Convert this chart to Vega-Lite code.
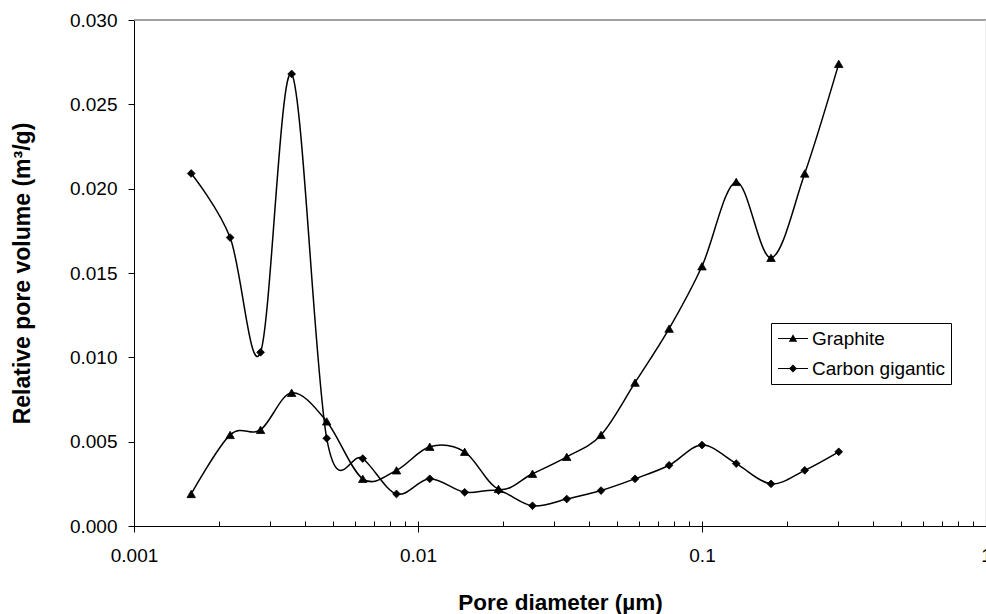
{
  "$schema": "https://vega.github.io/schema/vega-lite/v6.json",
  "width": 852,
  "height": 506,
  "autosize": "none",
  "padding": {"left": 134, "top": 20, "right": 0, "bottom": 88},
  "background": "white",
  "config": {
    "view": {"stroke": null},
    "font": "Liberation Sans",
    "axis": {
      "labelFont": "Liberation Sans",
      "labelFontSize": 19,
      "labelColor": "#000",
      "titleFont": "Liberation Sans",
      "titleFontWeight": "bold",
      "titleColor": "#000",
      "domainColor": "#000",
      "tickColor": "#000",
      "grid": false
    }
  },
  "datasets": {
    "pores": [
      {"d": 0.00159, "v": 0.0019, "s": "Graphite"},
      {"d": 0.00218, "v": 0.0054, "s": "Graphite"},
      {"d": 0.00279, "v": 0.0057, "s": "Graphite"},
      {"d": 0.00359, "v": 0.0079, "s": "Graphite"},
      {"d": 0.00477, "v": 0.0062, "s": "Graphite"},
      {"d": 0.00639, "v": 0.0028, "s": "Graphite"},
      {"d": 0.0084, "v": 0.0033, "s": "Graphite"},
      {"d": 0.011, "v": 0.0047, "s": "Graphite"},
      {"d": 0.0146, "v": 0.0044, "s": "Graphite"},
      {"d": 0.0192, "v": 0.0022, "s": "Graphite"},
      {"d": 0.0253, "v": 0.0031, "s": "Graphite"},
      {"d": 0.0334, "v": 0.0041, "s": "Graphite"},
      {"d": 0.0441, "v": 0.0054, "s": "Graphite"},
      {"d": 0.0581, "v": 0.0085, "s": "Graphite"},
      {"d": 0.0766, "v": 0.0117, "s": "Graphite"},
      {"d": 0.1, "v": 0.0154, "s": "Graphite"},
      {"d": 0.132, "v": 0.0204, "s": "Graphite"},
      {"d": 0.175, "v": 0.0159, "s": "Graphite"},
      {"d": 0.23, "v": 0.0209, "s": "Graphite"},
      {"d": 0.303, "v": 0.0274, "s": "Graphite"},
      {"d": 0.00159, "v": 0.0209, "s": "Carbon gigantic"},
      {"d": 0.00218, "v": 0.0171, "s": "Carbon gigantic"},
      {"d": 0.00279, "v": 0.0103, "s": "Carbon gigantic"},
      {"d": 0.00359, "v": 0.0268, "s": "Carbon gigantic"},
      {"d": 0.00477, "v": 0.0052, "s": "Carbon gigantic"},
      {"d": 0.00639, "v": 0.0040, "s": "Carbon gigantic"},
      {"d": 0.0084, "v": 0.0019, "s": "Carbon gigantic"},
      {"d": 0.011, "v": 0.0028, "s": "Carbon gigantic"},
      {"d": 0.0146, "v": 0.0020, "s": "Carbon gigantic"},
      {"d": 0.0192, "v": 0.0021, "s": "Carbon gigantic"},
      {"d": 0.0253, "v": 0.0012, "s": "Carbon gigantic"},
      {"d": 0.0334, "v": 0.0016, "s": "Carbon gigantic"},
      {"d": 0.0441, "v": 0.0021, "s": "Carbon gigantic"},
      {"d": 0.0581, "v": 0.0028, "s": "Carbon gigantic"},
      {"d": 0.0766, "v": 0.0036, "s": "Carbon gigantic"},
      {"d": 0.1, "v": 0.0048, "s": "Carbon gigantic"},
      {"d": 0.132, "v": 0.0037, "s": "Carbon gigantic"},
      {"d": 0.175, "v": 0.0025, "s": "Carbon gigantic"},
      {"d": 0.23, "v": 0.0033, "s": "Carbon gigantic"},
      {"d": 0.303, "v": 0.0044, "s": "Carbon gigantic"}
    ]
  },
  "data": {"name": "pores"},
  "resolve": {"axis": {"x": "independent"}},
  "layer": [
    {
      "data": {"values": [{"t": 0}]},
      "mark": {"type": "rule", "color": "#808080", "strokeWidth": 1.5},
      "encoding": {"y": {"datum": 0.03, "type": "quantitative"}}
    },
    {
      "data": {"values": [{"t": 0}]},
      "mark": {"type": "rule", "color": "#dddddd", "strokeWidth": 1},
      "encoding": {
        "x": {
          "datum": 1,
          "type": "quantitative",
          "scale": {"type": "log", "domain": [0.001, 1]},
          "axis": {
            "orient": "bottom",
            "values": [0.001, 0.002, 0.003, 0.004, 0.005, 0.006, 0.007, 0.008, 0.009, 0.01, 0.02, 0.03, 0.04, 0.05, 0.06, 0.07, 0.08, 0.09, 0.1, 0.2, 0.3, 0.4, 0.5, 0.6, 0.7, 0.8, 0.9, 1],
            "labels": false,
            "domain": false,
            "tickSize": -5,
            "title": null
          }
        }
      }
    },
    {
      "mark": {"type": "line", "interpolate": "cardinal", "color": "#000", "strokeWidth": 1.5},
      "encoding": {
        "x": {
          "field": "d",
          "type": "quantitative",
          "scale": {"type": "log", "domain": [0.001, 1]},
          "axis": {
            "orient": "bottom",
            "values": [0.001, 0.01, 0.1, 1],
            "format": "~g",
            "tickSize": 6,
            "labelPadding": 14,
            "labelFlush": false,
            "labelOverlap": false,
            "title": "Pore diameter (µm)",
            "titleFontSize": 22.5,
            "titlePadding": 26
          }
        },
        "y": {
          "field": "v",
          "type": "quantitative",
          "scale": {"domain": [0, 0.03]},
          "axis": {
            "values": [0, 0.005, 0.01, 0.015, 0.02, 0.025, 0.03],
            "format": ".3f",
            "tickSize": 6,
            "labelPadding": 11,
            "labelFlush": false,
            "title": "Relative pore volume (m³/g)",
            "titleFontSize": 23,
            "titlePadding": 35
          }
        },
        "detail": {"field": "s"}
      }
    },
    {
      "transform": [{"filter": "datum.s === 'Graphite'"}],
      "mark": {"type": "point", "shape": "triangle-up", "size": 72, "filled": true, "color": "#000", "stroke": "#000", "strokeWidth": 0.8, "opacity": 1},
      "encoding": {
        "x": {"field": "d", "type": "quantitative", "axis": null},
        "y": {"field": "v", "type": "quantitative"}
      }
    },
    {
      "transform": [{"filter": "datum.s === 'Carbon gigantic'"}],
      "mark": {"type": "point", "shape": "diamond", "size": 60, "filled": true, "color": "#000", "stroke": "#000", "strokeWidth": 0.8, "opacity": 1},
      "encoding": {
        "x": {"field": "d", "type": "quantitative", "axis": null},
        "y": {"field": "v", "type": "quantitative"}
      }
    },
    {
      "transform": [{"filter": "datum.d < 0"}],
      "mark": {"type": "point", "filled": true, "color": "#000", "opacity": 1},
      "encoding": {
        "x": {"field": "d", "type": "quantitative", "axis": null},
        "y": {"field": "v", "type": "quantitative"},
        "shape": {
          "field": "s",
          "type": "nominal",
          "scale": {
            "domain": ["Graphite", "Carbon gigantic"],
            "range": ["M-1.5,-0.06L1.5,-0.06L1.5,0.06L-1.5,0.06Z M0,-0.42L0.42,0.32L-0.42,0.32Z", "M-1.5,-0.06L1.5,-0.06L1.5,0.06L-1.5,0.06Z M0,-0.4L0.4,0L0,0.4L-0.4,0Z"]
          },
          "legend": {
            "title": null,
            "orient": "none",
            "legendX": 637,
            "legendY": 303,
            "padding": 5.5,
            "strokeColor": "#000",
            "fillColor": "#fff",
            "symbolSize": 400,
            "symbolFillColor": "#000",
            "symbolStrokeWidth": 0,
            "symbolOpacity": 1,
            "symbolOffset": 6.5,
            "labelOffset": 9,
            "rowPadding": 10,
            "labelFont": "Liberation Sans",
            "labelFontSize": 19,
            "labelColor": "#000",
            "labelLimit": 300,
            "encode": {
              "symbols": {
                "update": {
                  "fill": {"value": "#000"},
                  "strokeWidth": {"value": 0},
                  "opacity": {"value": 1}
                }
              }
            }
          }
        }
      }
    }
  ]
}
